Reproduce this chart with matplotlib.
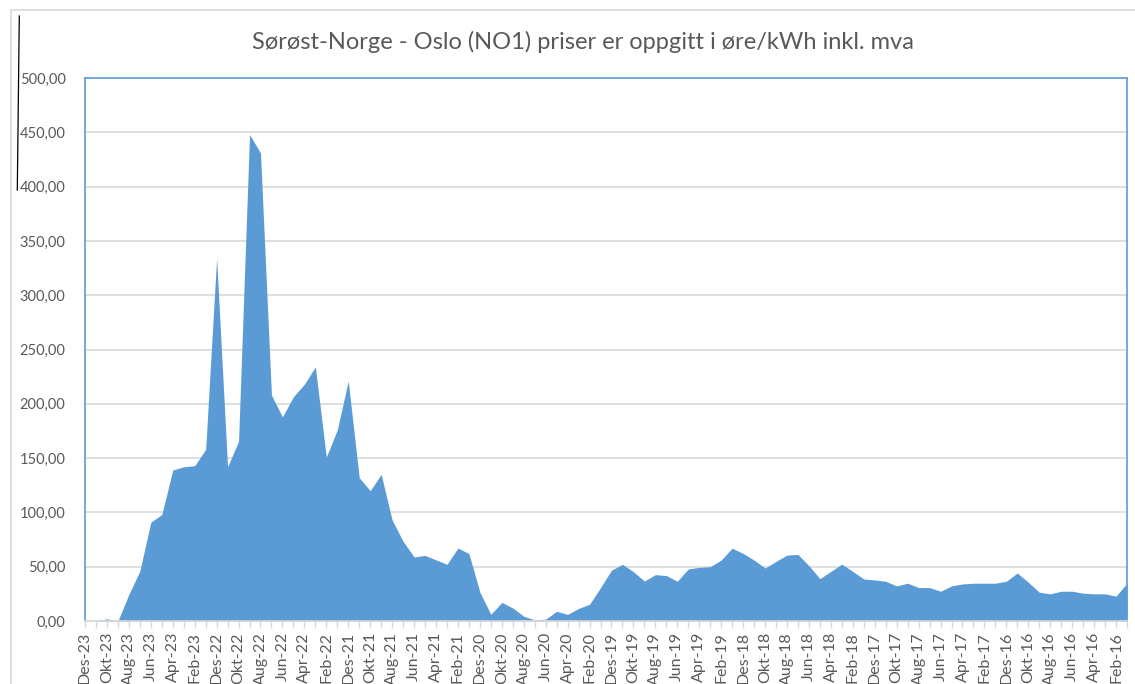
import matplotlib.pyplot as plt
from matplotlib.lines import Line2D
from matplotlib.patches import Rectangle

plt.rcParams['font.family'] = ['Lato', 'DejaVu Sans']

tittel = 'Sørøst-Norge - Oslo (NO1) priser er oppgitt i øre/kWh inkl. mva'

# maaneder, nyeste foerst (slik som i Excel-arket)
maaneder = [
    'Des-23', 'Nov-23', 'Okt-23', 'Sep-23', 'Aug-23', 'Jul-23', 'Jun-23', 'Mai-23', 'Apr-23', 'Mar-23', 'Feb-23', 'Jan-23',
    'Des-22', 'Nov-22', 'Okt-22', 'Sep-22', 'Aug-22', 'Jul-22', 'Jun-22', 'Mai-22', 'Apr-22', 'Mar-22', 'Feb-22', 'Jan-22',
    'Des-21', 'Nov-21', 'Okt-21', 'Sep-21', 'Aug-21', 'Jul-21', 'Jun-21', 'Mai-21', 'Apr-21', 'Mar-21', 'Feb-21', 'Jan-21',
    'Des-20', 'Nov-20', 'Okt-20', 'Sep-20', 'Aug-20', 'Jul-20', 'Jun-20', 'Mai-20', 'Apr-20', 'Mar-20', 'Feb-20', 'Jan-20',
    'Des-19', 'Nov-19', 'Okt-19', 'Sep-19', 'Aug-19', 'Jul-19', 'Jun-19', 'Mai-19', 'Apr-19', 'Mar-19', 'Feb-19', 'Jan-19',
    'Des-18', 'Nov-18', 'Okt-18', 'Sep-18', 'Aug-18', 'Jul-18', 'Jun-18', 'Mai-18', 'Apr-18', 'Mar-18', 'Feb-18', 'Jan-18',
    'Des-17', 'Nov-17', 'Okt-17', 'Sep-17', 'Aug-17', 'Jul-17', 'Jun-17', 'Mai-17', 'Apr-17', 'Mar-17', 'Feb-17', 'Jan-17',
    'Des-16', 'Nov-16', 'Okt-16', 'Sep-16', 'Aug-16', 'Jul-16', 'Jun-16', 'Mai-16', 'Apr-16', 'Mar-16', 'Feb-16', 'Jan-16',
]

# pris i øre/kWh, samme rekkefoelge
priser = [
    0.0, 0.0, 2.0, 0.0, 24.6, 46.0, 91.0, 98.0, 139.0, 142.0, 143.0, 158.0,
    334.0, 142.0, 165.5, 448.0, 431.0, 208.0, 188.0, 206.5, 218.0, 234.0, 151.0, 176.0,
    221.0, 132.0, 120.0, 135.0, 93.0, 73.4, 59.0, 60.4, 56.3, 52.2, 67.2, 62.1,
    26.6, 6.1, 17.1, 12.0, 4.4, 1.0, 1.7, 8.9, 6.1, 11.6, 15.4, 30.7,
    46.8, 52.2, 45.4, 36.8, 42.7, 41.8, 36.6, 47.9, 49.4, 50.0, 56.1, 67.1,
    62.2, 56.1, 48.8, 54.9, 60.7, 61.3, 50.9, 39.0, 45.7, 52.4, 45.7, 38.7,
    37.8, 36.6, 32.3, 34.8, 30.8, 30.8, 27.4, 32.3, 34.1, 34.8, 34.8, 34.8,
    36.6, 44.2, 35.7, 26.5, 25.0, 27.4, 27.4, 25.6, 25.0, 25.0, 22.9, 34.8,
]

y_ticks = [0, 50, 100, 150, 200, 250, 300, 350, 400, 450, 500]

blaa = '#5B9BD5'
graa_tekst = '#595959'
graa_linje = '#D9D9D9'

W, H = 1135, 684
fig = plt.figure(figsize=(W / 100, H / 100), dpi=100)

# ramme rundt hele diagrammet + en loes strek til venstre
fig.patches.append(Rectangle((11 / W, -0.01), 1.02 - 11 / W, 1 - 10 / H - (-0.01),
                             transform=fig.transFigure, fill=False,
                             edgecolor=graa_linje, linewidth=1.2))
fig.lines.append(Line2D([19.3 / W, 17.3 / W], [1 - 16 / H, 1 - 190 / H],
                        transform=fig.transFigure, color='black', linewidth=0.9))

ax = fig.add_axes([85 / W, (H - 621) / H, (1127 - 85) / W, (621 - 78) / H])

x = list(range(len(priser)))
ax.fill_between(x, priser, color=blaa, linewidth=0, zorder=3)

ax.set_xlim(0, len(priser) - 1)
ax.set_ylim(0, 500)

ax.set_yticks(y_ticks)
ax.set_yticklabels([f'{v:.2f}'.replace('.', ',') for v in y_ticks])
ax.yaxis.grid(True, color=graa_linje, linewidth=1.2, zorder=1)
ax.tick_params(axis='y', length=0, pad=14, labelsize=10.5, labelcolor=graa_tekst)

ax.set_xticks(x)
ax.set_xticklabels([m if i % 2 == 0 else '' for i, m in enumerate(maaneder)], rotation=90)
ax.tick_params(axis='x', length=5, width=1, color=graa_linje, pad=3,
               labelsize=11.5, labelcolor=graa_tekst)

for side in ['top', 'left', 'right']:
    ax.spines[side].set_color(blaa)
    ax.spines[side].set_linewidth(1.2)
ax.spines['bottom'].set_color(graa_linje)
ax.spines['bottom'].set_linewidth(1.2)
ax.spines['bottom'].set_zorder(4)

fig.text(583 / W, 1 - 42 / H, tittel, ha='center', va='center',
         fontsize=17, color=graa_tekst)

fig.savefig('out.png', dpi=100)
